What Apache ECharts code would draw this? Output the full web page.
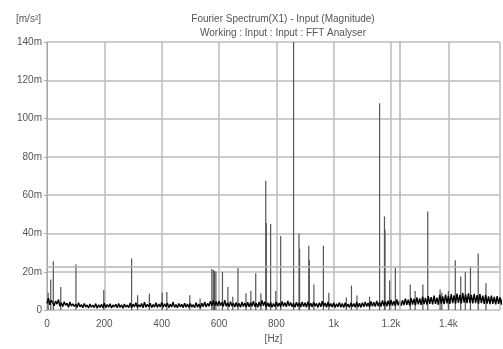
<!DOCTYPE html>
<html>
<head>
<meta charset="utf-8">
<script src="https://cdn.jsdelivr.net/npm/echarts@6/dist/echarts.min.js"></script>
<style>
  html, body { margin: 0; padding: 0; background: #fff; }
  #chart { width: 503px; height: 349px; }
</style>
</head>
<body>
<div id="chart"></div>
<script>
// x tick labels (Hz) and y tick labels (m/s^2, values stored in milli units)
const xTickLabels = ['0', '200', '400', '600', '800', '1k', '1.2k', '1.4k']
const yTickLabels = ['0', '20m', '40m', '60m', '80m', '100m', '120m', '140m']

// noise floor, one value every 5 Hz starting at 0 Hz (milli m/s^2)
const floorStep = 5
const floorValues = [
  3.5, 6.2, 2.8, 5.1, 4.0, 2.2, 4.8, 3.1, 5.5, 2.0, 3.9, 1.8, 4.4, 2.5, 3.6, 1.5, 4.2, 2.1, 3.3, 1.9,
  3.0, 1.4, 3.8, 1.7, 2.9, 1.2, 3.5, 1.6, 2.7, 1.1, 3.2, 1.5, 2.6, 1.3, 3.4, 1.0, 2.8, 1.4, 3.1, 1.2,
  3.6, 1.3, 2.9, 1.5, 3.3, 1.1, 2.7, 1.6, 3.0, 1.2, 3.5, 1.4, 2.8, 1.0, 3.2, 1.5, 2.6, 1.3, 3.7, 1.2,
  3.1, 1.6, 3.9, 1.4, 2.8, 1.7, 3.4, 1.2, 4.1, 1.5, 3.0, 1.8, 3.6, 1.3, 2.9, 1.6, 3.8, 1.4, 3.2, 1.7,
  4.0, 1.5, 3.3, 1.8, 3.7, 1.3, 3.1, 1.6, 4.2, 1.4, 2.9, 1.2, 3.5, 1.7, 3.0, 1.3, 3.6, 1.5, 3.2, 1.4,
  3.4, 1.6, 2.8, 1.3, 3.9, 1.5, 3.1, 1.2, 3.6, 1.8, 4.3, 1.6, 3.5, 2.0, 4.6, 2.2, 5.0, 2.4, 4.5, 2.1,
  4.8, 2.3, 4.1, 1.9, 5.2, 2.0, 3.8, 1.7, 4.4, 2.1, 3.6, 1.6, 4.0, 1.8, 3.5, 1.5, 4.3, 1.9, 3.7, 1.6,
  4.1, 1.7, 3.9, 2.0, 4.6, 1.8, 3.6, 1.5, 4.2, 1.9, 5.1, 2.2, 4.4, 1.6, 3.8, 1.8, 4.0, 1.5, 3.5, 1.7,
  4.2, 1.9, 3.7, 1.6, 4.5, 2.0, 3.9, 1.7, 4.8, 2.1, 4.0, 1.8, 3.6, 1.5, 4.1, 1.9, 3.8, 1.6, 4.3, 1.8,
  3.9, 1.5, 4.4, 1.8, 3.6, 1.6, 4.1, 2.0, 3.5, 1.4, 3.9, 1.7, 4.6, 1.9, 3.7, 1.5, 4.2, 1.8, 3.4, 1.6,
  3.8, 1.4, 3.3, 1.7, 4.0, 1.5, 3.5, 1.3, 3.9, 1.6, 3.2, 1.4, 3.7, 1.8, 3.4, 1.5, 4.1, 1.6, 3.6, 1.4,
  3.9, 1.7, 4.3, 1.9, 3.7, 1.6, 4.5, 2.0, 4.1, 1.8, 4.8, 2.1, 4.2, 1.9, 5.0, 2.3, 4.6, 2.0, 4.9, 2.2,
  5.3, 2.4, 4.7, 2.1, 5.6, 2.5, 4.9, 2.2, 5.2, 2.6, 6.0, 2.8, 5.5, 2.4, 6.3, 2.9, 5.8, 2.6, 6.6, 3.0,
  6.1, 2.7, 7.0, 3.1, 6.4, 2.9, 7.3, 3.2, 6.8, 3.0, 7.6, 3.3, 6.5, 2.8, 7.9, 3.4, 7.2, 3.1, 8.1, 3.5,
  7.4, 3.2, 8.3, 3.6, 7.7, 3.4, 8.6, 3.8, 7.9, 3.5, 9.0, 3.9, 8.2, 3.6, 8.8, 3.7, 8.0, 3.5, 8.5, 3.6,
  7.8, 3.3, 8.4, 3.7, 7.5, 3.2, 7.9, 3.4, 7.2, 3.1, 7.6, 3.3, 6.9, 3.0, 7.3, 3.2, 6.7, 2.9, 7.0, 3.1
]

// spectral peaks
const peakHz = [
  4, 13, 22, 48, 101, 198, 295, 316, 357, 402, 418, 498, 534,
  575, 580, 584, 589, 612, 631, 648, 666, 694, 711, 728, 746,
  763, 765, 780, 798, 815, 860, 879, 881, 913, 915, 931, 964, 983,
  1044, 1062, 1081, 1125, 1160, 1177, 1179, 1195, 1215, 1267, 1284,
  1311, 1328, 1371, 1377, 1400, 1424, 1443, 1459, 1477, 1504, 1531
]
const peakValues = [
  9, 16, 25.5, 12, 24, 10.5, 27, 7.8, 8.5, 9, 9.5, 7.8, 6,
  21.5, 21, 20.5, 20, 19.8, 12, 7, 22, 8.8, 10, 19.3, 8.8,
  67.5, 45.5, 45, 10, 38.7, 190, 40, 32, 33.6, 26, 13.4, 33.6, 9,
  6.6, 12.8, 7.6, 7, 108, 48.9, 42, 15.5, 22, 13.4, 10,
  13.4, 51.5, 10.8, 9, 10, 26, 17.6, 19.8, 23, 29.6, 14
]

// cursor lines
const cursorHz = 1230
const cursorLevel = 22.8

const floorPoints = floorValues.map((v, i) => [i * floorStep, v])
const peakPoints = peakHz.map((hz, i) => [hz, peakValues[i]])

const labelFont = { fontFamily: 'Liberation Sans', fontSize: 10, color: '#555' }
const titleFont = { fontFamily: 'Liberation Sans', fontSize: 10, fontWeight: 'normal', color: '#555' }

const myChart = echarts.init(document.getElementById('chart'), null, { renderer: 'canvas' })

const option = {
  animation: false,
  backgroundColor: '#fff',
  title: [
    { text: 'Fourier Spectrum(X1) - Input (Magnitude)', left: 278, top: 9, textAlign: 'center', textStyle: titleFont },
    { text: 'Working : Input : Input : FFT Analyser', left: 278, top: 23, textAlign: 'center', textStyle: titleFont },
    { text: '[m/s²]', left: 11, top: 9, textStyle: titleFont }
  ],
  grid: { left: 47, right: 0, top: 42, bottom: 31 },
  xAxis: {
    type: 'value',
    min: 0,
    max: 1580,
    interval: 200,
    name: '[Hz]',
    nameLocation: 'middle',
    nameGap: 20,
    nameTextStyle: labelFont,
    axisLine: { show: false },
    axisTick: { show: false },
    axisLabel: Object.assign({
      margin: 9,
      formatter: v => (v % 200 === 0 ? xTickLabels[v / 200] : '')
    }, labelFont),
    splitLine: { show: true, lineStyle: { color: '#bdbdbd', width: 1.5 } }
  },
  yAxis: {
    type: 'value',
    min: 0,
    max: 140,
    interval: 20,
    axisLine: { show: true, lineStyle: { color: '#a8a8a8', width: 1 } },
    axisTick: { show: true, length: 3, lineStyle: { color: '#a8a8a8' } },
    axisLabel: Object.assign({
      margin: 5,
      formatter: v => yTickLabels[v / 20]
    }, labelFont),
    splitLine: { show: true, lineStyle: { color: '#bdbdbd', width: 1.5 } }
  },
  series: [
    {
      type: 'bar',
      data: peakPoints,
      barWidth: 1.2,
      clip: true,
      itemStyle: { color: '#555' },
      markLine: {
        silent: true,
        symbol: 'none',
        label: { show: false },
        lineStyle: { color: '#b5b5b5', width: 1.5, type: 'solid' },
        data: [{ xAxis: cursorHz }, { yAxis: cursorLevel }]
      }
    },
    {
      type: 'line',
      data: floorPoints,
      showSymbol: false,
      clip: true,
      lineStyle: { color: '#000', width: 1.4 }
    }
  ]
}

myChart.setOption(option)
</script>
</body>
</html>
